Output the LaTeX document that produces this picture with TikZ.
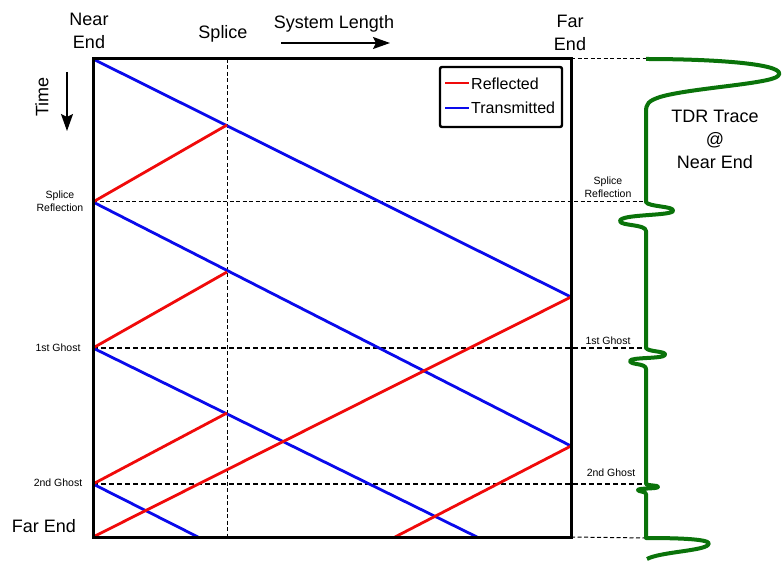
\documentclass[tikz,border=0pt]{standalone}
\usepackage{fontspec}
\setmainfont{Liberation Sans}
\usetikzlibrary{arrows.meta}
\definecolor{refl}{RGB}{240,10,10}
\definecolor{trans}{RGB}{10,10,235}
\definecolor{trace}{RGB}{10,115,10}
\tikzset{
  big/.style={font=\fontsize{18}{23}\selectfont, align=center, inner sep=0pt},
  legendtext/.style={font=\fontsize{16}{19}\selectfont, anchor=west, inner sep=0pt},
  small/.style={font=\fontsize{10.5}{13}\selectfont, align=center, inner sep=0pt},
  frame/.style={line width=3pt, line cap=rect},
  rray/.style={refl, line width=2.8pt},
  tray/.style={trans, line width=2.8pt},
  guide/.style={dashed, dash pattern=on 4pt off 2.5pt, line width=1pt},
  ghostguide/.style={dashed, dash pattern=on 5pt off 3pt, line width=1.4pt},
  tdr/.style={trace, line width=4pt, line join=round},
  axisarrow/.style={line width=1.4pt, -{Stealth[length=17pt,width=12pt,inset=3pt]}}
}
\begin{document}
\begin{tikzpicture}[x=1pt, y=-1pt]
\useasboundingbox (0,0) rectangle (782,569);

% corners of the space-time box and the splice position
\coordinate (NE) at (93,59);
\coordinate (FE) at (571,59);
\coordinate (NB) at (93,537);
\coordinate (FB) at (571,537);
\coordinate (ST) at (227,59);
\coordinate (SB) at (227,537);

% arrival times at the near end
\coordinate (N1) at (93,202);
\coordinate (N2) at (93,348);
\coordinate (N3) at (93,484);
% events at the splice
\coordinate (S1) at (227,125);
\coordinate (S2) at (227,272);
\coordinate (S3) at (227,413);
% events at the far end
\coordinate (F1) at (571,297);
\coordinate (F2) at (571,446);
% rays leaving the bottom of the window
\coordinate (B1) at (198,537);
\coordinate (B2) at (395,537);
\coordinate (B3) at (477,537);

% trace column
\coordinate (T0) at (646,59);
\coordinate (T1) at (646,202);
\coordinate (T2) at (646,348);
\coordinate (T3) at (646,484);
\coordinate (T4) at (646,538);

% guides
\draw[guide] (ST) -- (SB);
\draw[guide] (N1) -- (T1);
\draw[ghostguide] (N2) -- (T2);
\draw[ghostguide] (N3) -- (T3);
\draw[guide] (FE) -- (T0);
\draw[guide] (FB) -- (T4);

% transmitted rays
\draw[tray] (NE) -- (F1);
\draw[tray] (N1) -- (F2);
\draw[tray] (N2) -- (B3);
\draw[tray] (N3) -- (B1);
% reflected rays
\draw[rray] (S1) -- (N1);
\draw[rray] (S2) -- (N2);
\draw[rray] (S3) -- (N3);
\draw[rray] (NB) -- (F1);
\draw[rray] (B2) -- (F2);

% frame
\draw[frame] (NE) rectangle (FB);

% legend
\node[draw, line width=2.4pt, rounded corners=2pt, minimum width=122pt, minimum height=60pt, inner sep=0pt] (legend) at (501,97) {};
\coordinate (lr1) at (445,83);
\coordinate (lr2) at (469,83);
\coordinate (lb1) at (445,108);
\coordinate (lb2) at (469,108);
\draw[rray, line width=2.4pt] (lr1) -- (lr2);
\draw[tray, line width=2.4pt] (lb1) -- (lb2);
\node[legendtext] (lgr) at (471,84) {Reflected};
\node[legendtext] (lgt) at (471,108) {Transmitted};

% top and side labels
\node[big] (near) at (89,31) {Near\\End};
\node[big] (far) at (570,33) {Far\\End};
\node[big] (splice) at (223,34) {Splice};
\node[big] (syslen) at (334,24) {System Length};
\coordinate (sa1) at (281,43);
\coordinate (sa2) at (390,43);
\draw[axisarrow] (sa1) -- (sa2);
\node[big, rotate=90] (time) at (42,97) {Time};
\coordinate (ta1) at (67,72);
\coordinate (ta2) at (67,131);
\draw[axisarrow] (ta1) -- (ta2);
\node[big] (farend) at (44,526) {Far End};

% event labels, left
\node[small] (lsr) at (60,201) {Splice\\Reflection};
\node[small] (lg1) at (58,348) {1st Ghost};
\node[small] (lg2) at (58,483) {2nd Ghost};
% event labels, right
\node[small] (rsr) at (608,187) {Splice\\Reflection};
\node[small] (rg1) at (608,341) {1st Ghost};
\node[small] (rg2) at (611,473) {2nd Ghost};

% TDR trace
\node[big] (tdrlabel) at (715,139) {TDR Trace\\@\\Near End};
\draw[tdr] (T0)
  .. controls (715,59) and (790,64) .. (778,76)
  .. controls (770,84) and (690,88) .. (660,97)
  .. controls (648,101) and (646,104) .. (646,112)
  -- (T1)
  .. controls (648,207) and (675,206) .. (673,211)
  .. controls (671,216) and (620,214) .. (620,221)
  .. controls (620,226) and (646,224) .. (646,231)
  -- (T2)
  .. controls (648,352) and (667,351) .. (665,355)
  .. controls (663,359) and (630,357) .. (630,361)
  .. controls (630,365) and (646,363) .. (646,369)
  -- (T3)
  .. controls (648,486) and (659,485) .. (658,487)
  .. controls (657,489) and (638,488) .. (638,490)
  .. controls (638,492) and (646,491) .. (646,494)
  -- (T4)
  .. controls (690,538) and (714,540) .. (708,545)
  .. controls (702,551) and (660,552) .. (647,559);
\end{tikzpicture}
\end{document}
